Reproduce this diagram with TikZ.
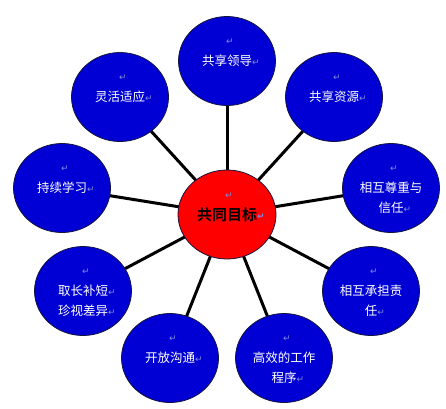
\documentclass[tikz,border=0pt]{standalone}
\usepackage{fontspec}
\setmainfont{Noto Sans CJK SC}[BoldFont={Noto Sans CJK SC Bold}]
\newfontfamily\markfont{DejaVu Sans}
\usetikzlibrary{shapes.geometric,backgrounds}
\definecolor{bubblue}{RGB}{0,0,212}
\definecolor{bubred}{RGB}{255,0,0}
\definecolor{edgedark}{RGB}{20,20,60}
\definecolor{markcol}{RGB}{130,140,225}
\newcommand{\pmark}{{\markfont\fontsize{9}{9}\selectfont\color{markcol}\raisebox{0.5pt}{↵}}}
\newcommand{\tmark}{\rlap{\pmark}}
\tikzset{
  bub/.style={ellipse, fill=bubblue, draw=edgedark, line width=0.8pt,
    minimum width=97pt, minimum height=89pt, inner sep=0pt},
  hub/.style={ellipse, fill=bubred, draw=edgedark, line width=0.8pt,
    minimum width=98pt, minimum height=89pt, inner sep=0pt},
  txt/.style={text=white, align=center, inner sep=0pt,
    font=\fontsize{12.5}{20}\selectfont},
  hubtxt/.style={text=black, inner sep=0pt,
    font=\fontsize{15}{20}\selectfont\bfseries},
  pm/.style={inner sep=0pt},
  spoke/.style={draw=black, line width=3pt}
}
\begin{document}
\begin{tikzpicture}[x=1pt,y=-1pt]
\useasboundingbox (0,0) rectangle (446,408);
% hub
\node[hub] (c) at (227,214.5) {};
% bubbles
\node[bub] (n1) at (227,61) {};
\node[bub] (n2) at (334,97) {};
\node[bub] (n3) at (391,188) {};
\node[bub] (n4) at (371,291) {};
\node[bub] (n5) at (284,358) {};
\node[bub] (n6) at (170,358) {};
\node[bub] (n7) at (83,291) {};
\node[bub] (n8) at (62,188) {};
\node[bub] (n9) at (120,97) {};
% spokes
\begin{pgfonlayer}{background}
\foreach \n in {n1,n2,n3,n4,n5,n6,n7,n8,n9}
  \draw[spoke] (c.center) -- (\n.center);
\end{pgfonlayer}
% texts
\node[hubtxt] (tc) at (c.center) {共同目标\tmark};
\node[pm] (mc) at ([xshift=2pt,yshift=19pt]c.center) {\pmark};
\node[txt] (t1) at (n1.center) {共享领导\tmark};
\node[pm] (m1) at ([xshift=3pt,yshift=19pt]n1.center) {\pmark};
\node[txt] (t2) at (n2.center) {共享资源\tmark};
\node[pm] (m2) at ([xshift=3pt,yshift=19pt]n2.center) {\pmark};
\node[txt] (t3) at ([yshift=-10pt]n3.center) {相互尊重与\\信任\tmark};
\node[pm] (m3) at ([xshift=3pt,yshift=19pt]n3.center) {\pmark};
\node[txt] (t4) at ([yshift=-10pt]n4.center) {相互承担责\\任\tmark};
\node[pm] (m4) at ([xshift=3pt,yshift=19pt]n4.center) {\pmark};
\node[txt] (t5) at ([yshift=-10pt]n5.center) {高效的工作\\程序\tmark};
\node[pm] (m5) at ([xshift=3pt,yshift=19pt]n5.center) {\pmark};
\node[txt] (t6) at (n6.center) {开放沟通\tmark};
\node[pm] (m6) at ([xshift=3pt,yshift=19pt]n6.center) {\pmark};
\node[txt] (t7) at ([yshift=-10pt]n7.center) {取长补短\tmark\\珍视差异\tmark};
\node[pm] (m7) at ([xshift=3pt,yshift=19pt]n7.center) {\pmark};
\node[txt] (t8) at (n8.center) {持续学习\tmark};
\node[pm] (m8) at ([xshift=3pt,yshift=19pt]n8.center) {\pmark};
\node[txt] (t9) at (n9.center) {灵活适应\tmark};
\node[pm] (m9) at ([xshift=3pt,yshift=19pt]n9.center) {\pmark};
\end{tikzpicture}
\end{document}
